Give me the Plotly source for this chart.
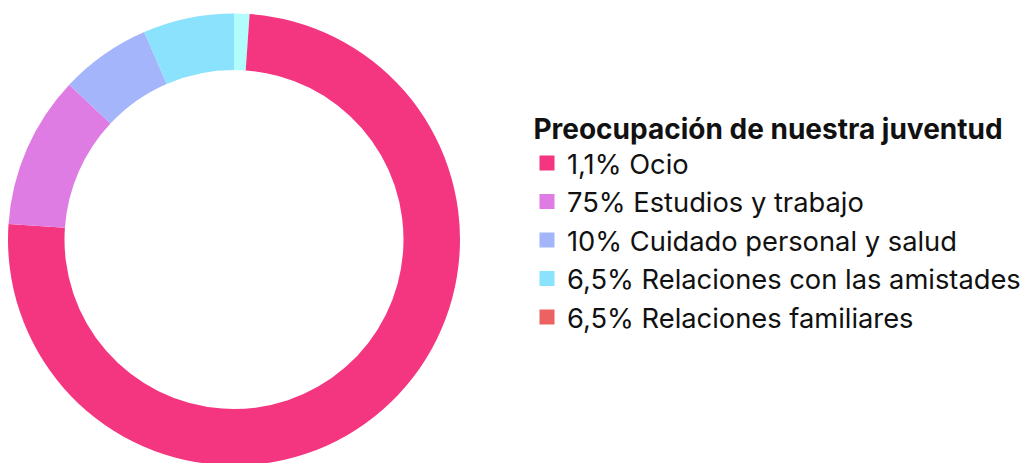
import plotly.graph_objects as go

# Slices (drawn clockwise from 12 o'clock)
slice_names = ["Ocio", "Estudios y trabajo", "Cuidado personal y salud",
               "Relaciones con las amistades", "Relaciones familiares"]
slice_values = [1.1, 75, 10.9, 6.5, 6.5]
slice_colors = ["#b2fcfe", "#f4357f", "#df7ce4", "#a4b5fc", "#8ae2fc"]

# Legend entries as shown in the reference
legend_title = "Preocupación de nuestra juventud"
legend_labels = ["1,1% Ocio", "75% Estudios y trabajo", "10% Cuidado personal y salud",
                 "6,5% Relaciones con las amistades", "6,5% Relaciones familiares"]
legend_colors = ["#f4357f", "#df7ce4", "#a4b5fc", "#8ae2fc", "#ec6262"]

W, H = 1034, 463

fig = go.Figure()
fig.add_trace(go.Pie(
    labels=slice_names,
    values=slice_values,
    marker=dict(colors=slice_colors, line=dict(width=0)),
    hole=0.75,
    sort=False,
    direction="clockwise",
    rotation=0,
    textinfo="none",
    showlegend=False,
    domain=dict(x=[0, 452 / W], y=[1 - 457.5 / H, 1 - 5.5 / H]),
))

for i, (lab, col) in enumerate(zip(legend_labels, legend_colors)):
    fig.add_trace(go.Scatter(
        x=[None], y=[None], mode="markers", name=lab,
        marker=dict(symbol="square", size=15, color=col),
        showlegend=True,
    ))

fig.update_layout(
    width=W, height=H,
    margin=dict(l=0, r=0, t=0, b=0),
    paper_bgcolor="white", plot_bgcolor="white",
    xaxis=dict(visible=False), yaxis=dict(visible=False),
    font=dict(family="Inter", color="#111111"),
    legend=dict(
        title=dict(text="<b>\u2009" + legend_title + "</b>", font=dict(size=28, family="Inter", color="#111111")),
        font=dict(size=27.3, family="Inter", color="#111111"),
        x=519 / W, xanchor="left", y=0.538, yanchor="middle",
        bgcolor="rgba(0,0,0,0)",
        itemclick=False, itemdoubleclick=False,
    ),
)

fig.write_html("out.html")
